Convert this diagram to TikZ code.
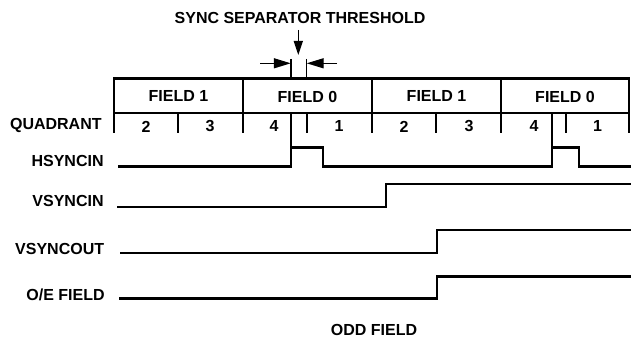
\documentclass[tikz,border=0pt]{standalone}
\usepackage{fontspec}
\setmainfont{Liberation Sans}
\usetikzlibrary{arrows.meta}

\begin{document}
\begin{tikzpicture}[x=0.5pt,y=-0.5pt,
	lbl/.style={font=\fontsize{8}{9}\selectfont\bfseries,inner sep=0pt},
	grid/.style={line width=1.1pt},
	wave/.style={line width=1.35pt},
	thinline/.style={line width=0.6pt},
	thr/.style={line width=0.7pt,-{Triangle[length=8.5pt,width=5pt]}}]
	
	\useasboundingbox (0,0) rectangle (636,341);
	
	\node[lbl] (title) at (300,17.5) {SYNC SEPARATOR THRESHOLD};
	\coordinate (d1) at (298.3,30);
	\coordinate (d2) at (298.3,55);
	\coordinate (l1) at (260,63.3);
	\coordinate (l2) at (290.8,63.3);
	\coordinate (r1) at (337,63.3);
	\coordinate (r2) at (306.7,63.3);
	
	\path[thr] (d1) edge[-{Triangle[length=7pt,width=4.5pt]}] (d2);
	\path[thr] (l1) edge (l2);
	\path[thr] (r1) edge (r2);
	\draw[thinline] (291,59) -- (291,78.5);
	\draw[thinline] (306.7,59) -- (306.7,78.5);
	
	% table
	\draw[grid] (114,78.5) rectangle (629,112.7);
	\foreach \x in {114,243,372,501,629}
		\draw[grid] (\x,78.5) -- (\x,133);
	\foreach \x in {178,306.7,436,566}
		\draw[grid] (\x,112.7) -- (\x,133);
	\draw[thinline] (291,112.7) -- (291,147.5);
	\draw[thinline] (552,112.7) -- (552,147.5);
	
	\foreach \x/\t in {178.5/FIELD 1,307.5/FIELD 0,436.5/FIELD 1,565/FIELD 0}
		\node[lbl] at (\x,96.5) {\t};
	\foreach \x/\t in {146/2,210/3,274/4,339/1,404/2,469/3,534/4,597.5/1}
		\node[lbl] at (\x,126.5) {\t};
	
	% signals
	\node[lbl,anchor=east] (quad) at (102,125.5) {QUADRANT};
	\node[lbl,anchor=base east] (hsync) at (104,166.7) {HSYNCIN};
	\node[lbl,anchor=base east] (vsync) at (104,206.7) {VSYNCIN};
	\node[lbl,anchor=base east] (vout) at (104.5,254.5) {VSYNCOUT};
	\node[lbl,anchor=base east] (oe) at (105,300.3) {O/E FIELD};
	
	\draw[wave] (118,166.5) -| (291,147.5) -| (323,166.5) -| (552,147.5) -| (579,166.5) -- (631,166.5);
	\draw[wave] (117,207) -| (386,184) -- (631,184);
	\draw[wave] (120,253) -| (437,230) -- (631,230);
	\draw[wave] (119,298.7) -| (437,276.5) -- (631,276.5);
	
	\node[lbl] (odd) at (374,330) {ODD FIELD};
	
\end{tikzpicture}
\end{document}
